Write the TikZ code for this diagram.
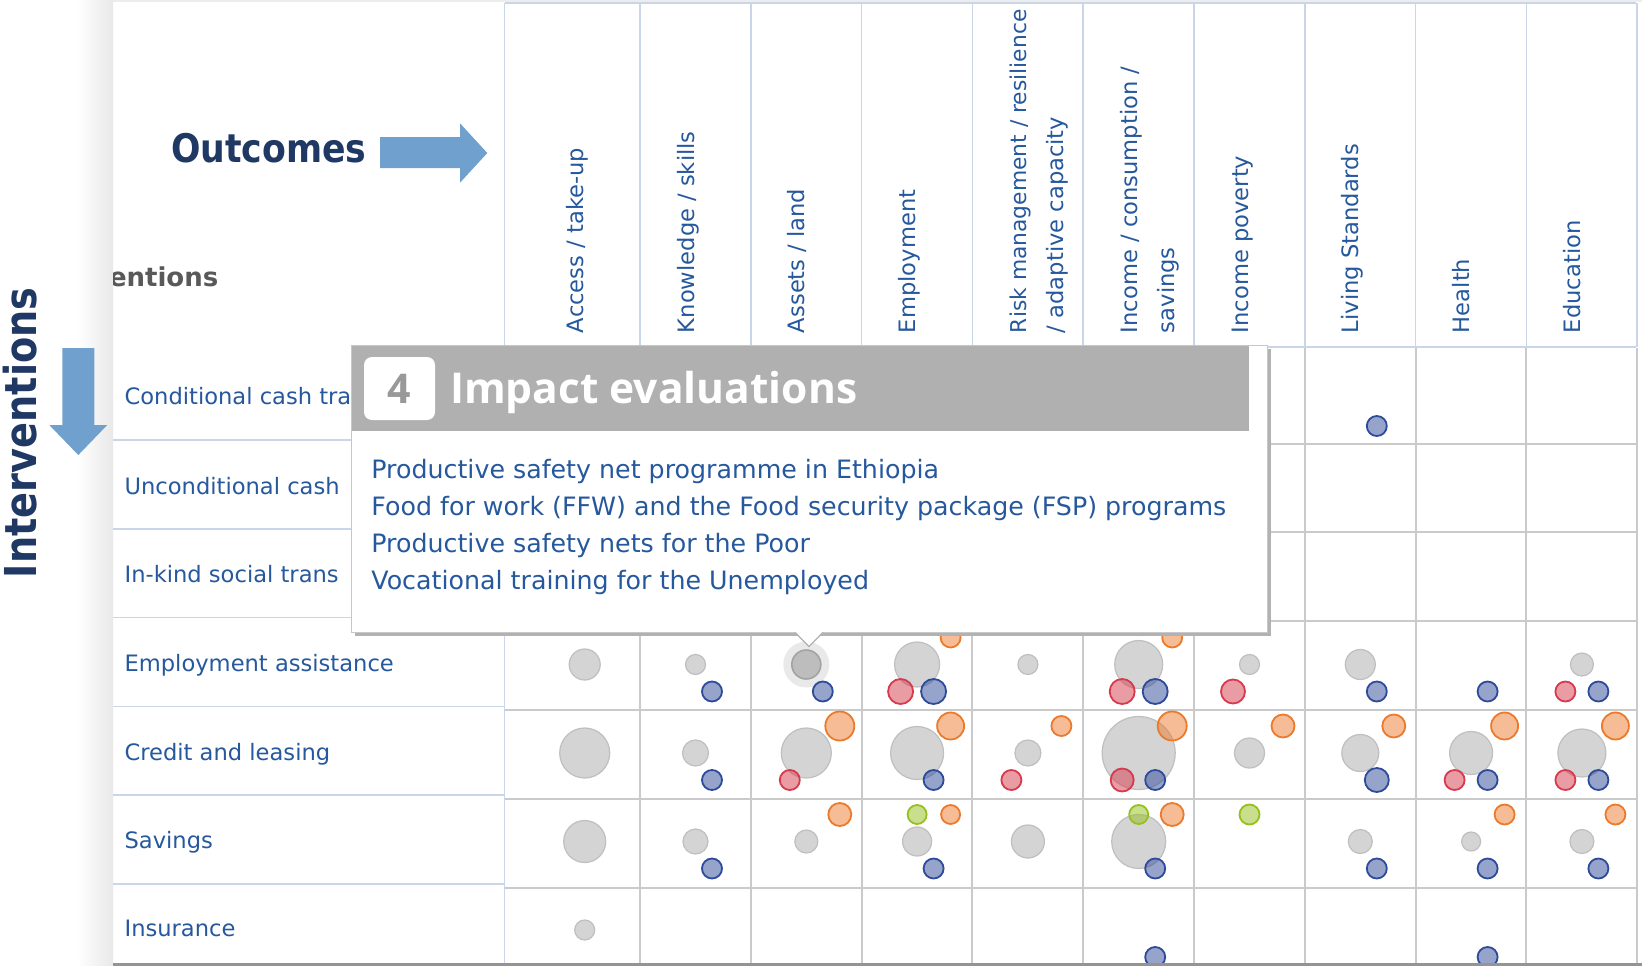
\documentclass[tikz,border=0pt]{standalone}
\usepackage{fontspec}
\setmainfont{DejaVu Sans}
\newfontfamily\titlefont{Open Sans}
\newfontfamily\outfont[FakeStretch=0.88]{DejaVu Sans}
\newfontfamily\intfont[FakeStretch=0.87]{DejaVu Sans}
\begin{document}
\begin{tikzpicture}[x=1pt, y=-1pt,
    inner sep=0pt, outer sep=0pt,
    rowlabel/.style={anchor=base west, text=textblue, font=\fontsize{22.6}{27}\selectfont},
    collabel/.style={anchor=base west, rotate=90, text=textblue, font=\fontsize{22.6}{27}\selectfont},
    evalitem/.style={anchor=base west, text=textblue, font=\fontsize{25.3}{30}\selectfont},
    headline/.style={draw=headblue, line width=1.6pt},
    gridline/.style={draw=gridgray, line width=2pt},
    graybub/.style={fill=black!17, draw=black!25, line width=1.2pt},
    bubble/.style={fill=#1, draw=#1, fill opacity=0.5, line width=1.8pt},
    blockarrow/.style={fill=arrowblue},
]
    % Colors
    \definecolor{textblue}{RGB}{38,88,158}
    \definecolor{navy}{RGB}{31,56,100}
    \definecolor{arrowblue}{RGB}{112,160,205}
    \definecolor{headblue}{RGB}{200,214,232}
    \definecolor{gridgray}{RGB}{202,202,202}
    \definecolor{tipgray}{RGB}{176,176,176}
    \definecolor{bubblue}{RGB}{46,74,155}
    \definecolor{bubred}{RGB}{214,58,76}
    \definecolor{buborange}{RGB}{236,122,44}
    \definecolor{bubgreen}{RGB}{150,192,30}

    % Page
    \useasboundingbox (0,0) rectangle (1642,966);
    \fill[white] (0,0) rectangle (1642,966);
    \shade[left color=white, right color=black!9] (77,0) rectangle (113,966);
    \fill[black!7] (113,0) rectangle (1642,2);

    % Header frame
    \draw[headline] (504.6,3.3) -- (1636,3.3);
    \draw[headline] (504.6,347) -- (1636,347);
    \foreach \k in {1,...,10}
        \draw[headline] ({640+110.8*(\k-1)},3.3) -- ({640+110.8*(\k-1)},347);
    \draw[headline] (504.6,3.3) -- (504.6,963);

    % Row separators on the left
    \foreach \k in {1,...,6}
        \draw[headline] (113,{440+88.8*(\k-1)}) -- (504.6,{440+88.8*(\k-1)});

    % Grid of the map
    \foreach \k in {1,...,10}
        \draw[gridline] ({640+110.8*(\k-1)},348) -- ({640+110.8*(\k-1)},963);
    \foreach \k in {1,...,6}
        \draw[gridline] (504.6,{443.5+88.8*(\k-1)}) -- (1637,{443.5+88.8*(\k-1)});

    % Outcome labels
    \foreach \k/\t in {1/{Access / take-up}, 2/{Knowledge / skills}, 3/{Assets / land},
        4/{Employment}, 6/{Income / consumption /}, 7/{Income poverty},
        8/{Living Standards}, 9/{Health}, 10/{Education}}
        \node[collabel] (col-\k) at ({583.2+110.8*(\k-1)},333) {\t};
    \node[collabel, font=\fontsize{21.8}{27}\selectfont] (col-5) at ({583.2+110.8*4},333)
        {Risk management / resilience};
    \node[collabel] (col-5b) at ({583.2+110.8*4+37.5},333) {/ adaptive capacity};
    \node[collabel] (col-6b) at ({583.2+110.8*5+37.5},333) {savings};

    % Titles and arrows
    \node[anchor=base west, text=navy, font=\outfont\bfseries\fontsize{39.4}{45}\selectfont]
        (outcomes) at (171,162.7) {Outcomes};
    \fill[blockarrow] (380,137) -- (460,137) -- (460,123.3) -- (487.3,153)
        -- (460,182.7) -- (460,168) -- (380,168) -- cycle;
    \node[anchor=base west, rotate=90, text=navy, font=\intfont\bfseries\fontsize{44}{50}\selectfont]
        (interventions) at (36.7,578) {Interventions};
    \fill[blockarrow] (62.3,348) -- (94.3,348) -- (94.3,425) -- (107.3,425)
        -- (78.3,455) -- (49.3,425) -- (62.3,425) -- cycle;
    \begin{scope}
        \clip (113,0) rectangle (504,347);
        \node[anchor=base west, text=black!65, font=\bfseries\fontsize{26}{30}\selectfont]
            (colhead) at (109,286) {entions};
    \end{scope}

    % Intervention labels
    \foreach \t/\y [count=\i] in {Conditional cash tra/404.5, Unconditional cash/494.5,
        In-kind social trans/582.5, Employment assistance/671.7, Credit and leasing/760,
        Savings/848.3, Insurance/936}
        \node[rowlabel] (row-\i) at (124.6,\y) {\t};

    % Bubbles: column/row/radius
    \foreach \c/\r/\s in {1/4/15.5, 2/4/10, 4/4/22.5, 5/4/10, 6/4/24, 7/4/10, 8/4/15, 10/4/11.5,
        1/5/25, 2/5/13, 3/5/25, 4/5/26.5, 5/5/13, 6/5/36.5, 7/5/15, 8/5/18.5, 9/5/21.5, 10/5/24,
        1/6/21, 2/6/12.5, 3/6/11.5, 4/6/14.5, 5/6/16.5, 6/6/27, 8/6/12, 9/6/9.5, 10/6/12,
        1/7/10}
        \filldraw[graybub] ({584.7+110.8*(\c-1)},{399+88.5*(\r-1)}) circle (\s);

    % hovered cell
    \fill[black!12, opacity=0.7] ({584.7+110.8*2},{399+88.5*3}) circle (23);
    \filldraw[fill=black!26, draw=black!36, line width=1.6pt] ({584.7+110.8*2},{399+88.5*3}) circle (14.5);

    \foreach \c/\r/\s in {4/6/9.5, 6/6/9.5, 7/6/10}
        \draw[bubble=bubgreen] ({584.7+110.8*(\c-1)},{399+88.5*(\r-1)-27}) circle (\s);
    \foreach \c/\r/\s in {4/4/10, 6/4/10, 3/5/14.5, 4/5/13.5, 5/5/10, 6/5/14.5, 7/5/11.5, 8/5/11.5,
        9/5/13.5, 10/5/13.5, 3/6/11.5, 4/6/9.5, 6/6/11.5, 9/6/10, 10/6/10}
        \draw[bubble=buborange] ({584.7+110.8*(\c-1)+33.5},{399+88.5*(\r-1)-27}) circle (\s);
    \foreach \c/\r/\s in {4/4/12.5, 6/4/12.5, 7/4/12, 10/4/10, 3/5/10, 5/5/10, 6/5/11.5, 9/5/10, 10/5/10}
        \draw[bubble=bubred] ({584.7+110.8*(\c-1)-16.5},{399+88.5*(\r-1)+27}) circle (\s);
    \foreach \c/\r/\s in {8/1/10, 2/4/10, 3/4/10, 4/4/12.5, 6/4/12.5, 8/4/10, 9/4/10, 10/4/10,
        2/5/10, 4/5/10, 6/5/10, 8/5/12, 9/5/10, 10/5/10,
        2/6/10, 4/6/10, 6/6/10, 8/6/10, 9/6/10, 10/6/10, 6/7/10, 9/7/10}
        \draw[bubble=bubblue] ({584.7+110.8*(\c-1)+16.5},{399+88.5*(\r-1)+27}) circle (\s);

    % Tooltip
    \fill[black!30] (354.5,348.5) rectangle (1270.5,635.5);
    \filldraw[fill=white, draw=black!22, line width=1pt] (351.5,345.5) rectangle (1267.5,632.5);
    \fill[tipgray] (351.5,345.5) rectangle (1249,430.5);
    \fill[white, rounded corners=8pt] (364,357) rectangle (435,420);
    \node[text=black!40, font=\titlefont\bfseries\fontsize{41}{48}\selectfont]
        (tipcount) at (399.5,388.5) {4};
    \node[anchor=base west, text=white, font=\titlefont\bfseries\fontsize{42.5}{50}\selectfont]
        (tiptitle) at (450,403.3) {Impact evaluations};
    \foreach \t [count=\i] in {Productive safety net programme in Ethiopia,
        Food for work (FFW) and the Food security package (FSP) programs,
        Productive safety nets for the Poor, Vocational training for the Unemployed}
        \node[evalitem] (eval-\i) at (371.4,{478.3+36.9*(\i-1)}) {\t};
    \fill[white] (795,631) -- (809,646.5) -- (823,631) -- cycle;
    \draw[black!30, line width=1.2pt] (795,632.5) -- (809,646.5) -- (823,632.5);

    % Bottom edge of the screen shot
    \fill[black!42] (113,963) rectangle (1642,966);
\end{tikzpicture}
\end{document}
